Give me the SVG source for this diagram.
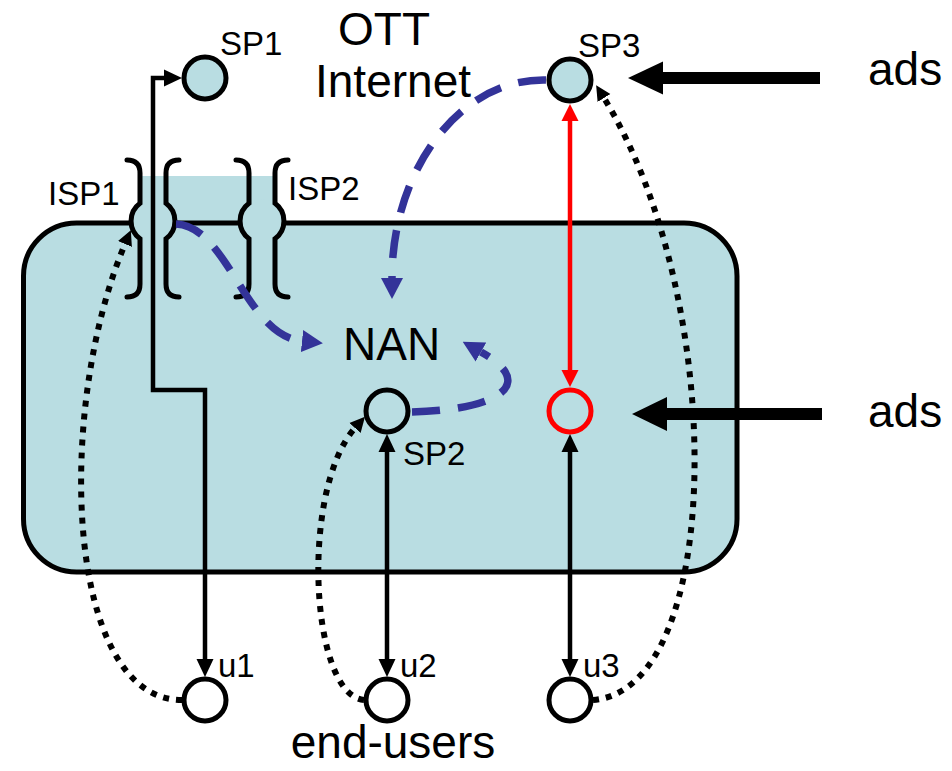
<svg xmlns="http://www.w3.org/2000/svg" width="952" height="771" viewBox="0 0 952 771">
<style>
text{font-family:"Liberation Sans",Arial,sans-serif;fill:#000}
.big{font-size:46px}
.lbl{font-size:33px}
.node{stroke:#000;stroke-width:5}
.blue{fill:#B9DDE2}
.wht{fill:#fff}
.sol{fill:none;stroke:#000;stroke-width:4.5}
.red{fill:none;stroke:#f00;stroke-width:4.5}
.dot{fill:none;stroke:#000;stroke-width:6;stroke-dasharray:6 7}
.dash{fill:none;stroke:#333399;stroke-width:7.5;stroke-dasharray:28 18}
.brace{fill:none;stroke:#000;stroke-width:5;stroke-linecap:round}
</style>
<defs>
<marker id="ab" markerUnits="userSpaceOnUse" viewBox="0 -9 18 18" refX="0" refY="0" markerWidth="18" markerHeight="18" orient="auto-start-reverse"><path d="M0,-8.5 L18,0 L0,8.5 Z" fill="#000"/></marker>
<marker id="ar" markerUnits="userSpaceOnUse" viewBox="0 -9 17 18" refX="0" refY="0" markerWidth="17" markerHeight="18" orient="auto-start-reverse"><path d="M0,-8.5 L17,0 L0,8.5 Z" fill="#f00"/></marker>
<marker id="au" markerUnits="userSpaceOnUse" viewBox="0 -11 21 22" refX="0" refY="0" markerWidth="21" markerHeight="22" orient="auto"><path d="M0,-11 L21,0 L0,11 Z" fill="#333399"/></marker>
<marker id="ad" markerUnits="userSpaceOnUse" viewBox="0 -8 15 16" refX="0" refY="0" markerWidth="15" markerHeight="16" orient="auto"><path d="M0,-7.5 L15,0 L0,7.5 Z" fill="#000"/></marker>
</defs>

<g id="ISP-band"><rect class="blue" x="141" y="176" width="132" height="50"/></g>

<g id="NAN">
<rect class="blue" x="23.5" y="223" width="713.5" height="349" rx="53" ry="53" stroke="#000" stroke-width="5"/>
<text class="big" x="343" y="360">NAN</text>
</g>

<g id="ISP1">
<circle class="blue" cx="153" cy="221" r="22"/>
<path class="brace" d="M127,160 Q140,160 140,173 L140,203.3 A22,22 0 0 0 140,238.7 L140,284 Q140,297 127,297"/>
<path class="brace" d="M179,160 Q166,160 166,173 L166,203.3 A22,22 0 0 1 166,238.7 L166,284 Q166,297 179,297"/>
<text class="lbl" x="48" y="205">ISP1</text>
</g>

<g id="ISP2">
<circle class="blue" cx="262" cy="221" r="22"/>
<path class="brace" d="M236,160 Q249,160 249,173 L249,203.3 A22,22 0 0 0 249,238.7 L249,284 Q249,297 236,297"/>
<path class="brace" d="M288,160 Q275,160 275,173 L275,203.3 A22,22 0 0 1 275,238.7 L275,284 Q275,297 288,297"/>
<text class="lbl" x="288" y="200">ISP2</text>
</g>

<g id="connectors">
<path class="sol" d="M205,659 L205,390 L153,390 L153,78 L164,78" marker-start="url(#ab)" marker-end="url(#ab)"/>
<path class="sol" d="M387,452 L387,659" marker-start="url(#ab)" marker-end="url(#ab)"/>
<path class="sol" d="M570,452 L570,659" marker-start="url(#ab)" marker-end="url(#ab)"/>
<path class="red" d="M570,121 L570,370" marker-start="url(#ar)" marker-end="url(#ar)"/>
<path class="dot" d="M182,700 C 65,700 55,410 125,244" marker-end="url(#ad)"/>
<path class="dot" d="M364,700 C 310,695 300,490 355,428" marker-end="url(#ad)"/>
<path class="dot" d="M593,700 C 725,690 728,300 604,98" marker-end="url(#ad)"/>
<path class="dash" d="M176,224 C 228,226 245,335 302,341" marker-end="url(#au)"/>
<path class="dash" d="M546,80 C 460,78 392,170 392,278" marker-end="url(#au)"/>
<path class="dash" d="M412,412 C 495,410 540,385 481,352" marker-end="url(#au)"/>
<g id="ads-arrows">
<line x1="820" y1="78" x2="660" y2="78" stroke="#000" stroke-width="12"/>
<path d="M628,78 L663,61.5 L663,94.5 Z" fill="#000"/>
<line x1="822" y1="414" x2="664" y2="414" stroke="#000" stroke-width="12"/>
<path d="M632,414 L667,397 L667,431 Z" fill="#000"/>
</g>
</g>

<g id="SP1"><circle class="node blue" cx="205" cy="78" r="21"/><text class="lbl" x="220" y="55">SP1</text></g>
<g id="OTT"><text class="big" x="384" y="45" text-anchor="middle">OTT</text><text class="big" x="393" y="97" text-anchor="middle">Internet</text></g>
<g id="SP3"><circle class="node blue" cx="570" cy="80" r="21"/><text class="lbl" x="578" y="57">SP3</text></g>
<g id="ads1"><text class="big" x="868" y="85">ads</text></g>
<g id="ads2"><text class="big" x="868" y="427">ads</text></g>
<g id="SP2"><circle class="node blue" cx="387" cy="411" r="21"/><text class="lbl" x="403" y="465">SP2</text></g>
<g id="redNode"><circle cx="570" cy="411" r="21" fill="none" stroke="#f00" stroke-width="5"/></g>
<g id="u1"><circle class="node wht" cx="205" cy="700" r="21"/><text class="lbl" x="218" y="677">u1</text></g>
<g id="u2"><circle class="node wht" cx="387" cy="700" r="21"/><text class="lbl" x="400" y="677">u2</text></g>
<g id="u3"><circle class="node wht" cx="570" cy="700" r="21"/><text class="lbl" x="583" y="677">u3</text></g>
<g id="endusers"><text class="big" x="393" y="758" text-anchor="middle">end-users</text></g>
</svg>
